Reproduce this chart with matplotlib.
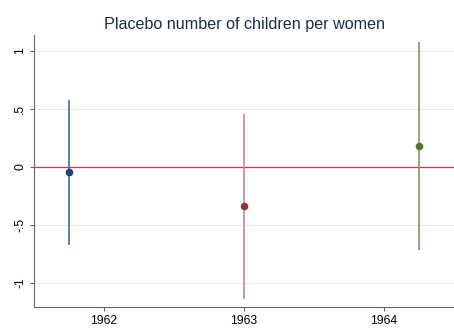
import numpy as np
import matplotlib
matplotlib.use('Agg')
import matplotlib.pyplot as plt

plt.rcParams['font.family'] = ['Liberation Sans', 'DejaVu Sans']

# coefficients and 95% confidence bounds by year
years = [1961.75, 1963.0, 1964.25]
coef = [-0.043, -0.336, 0.18]
lower = [-0.672, -1.138, -0.716]
upper = [0.578, 0.457, 1.078]
line_colors = ['#3f6d9b', '#c98890', '#7f9b5e']
dot_colors = ['#1a476f', '#90353b', '#55752f']

xticks = [1962, 1963, 1964]
yticks = [-1, -0.5, 0, 0.5, 1]
ylabels = ['-1', '-.5', '0', '.5', '1']

fig = plt.figure(figsize=(4.54, 3.29), dpi=100)
ax = fig.add_axes([34 / 454, 22 / 329, 420 / 454, 272 / 329])

ax.set_xlim(1961.5, 1964.5)
ax.set_ylim(-1.207, 1.138)

for y in yticks:
    ax.axhline(y, color='#e6eeeb', lw=0.8, zorder=0)
ax.axhline(0, color='#c8375a', lw=0.9, zorder=1)

for x, c, lo, hi, lc, dc in zip(years, coef, lower, upper, line_colors, dot_colors):
    ax.vlines(x, lo, hi, color=lc, lw=1.2, zorder=2)
    ax.plot(x, c, 'o', color=dc, ms=4.5, zorder=3)

ax.set_xticks(xticks)
ax.set_xticklabels([str(t) for t in xticks], fontsize=8.7)
ax.set_yticks(yticks)
ax.set_yticklabels(ylabels, fontsize=8.7, rotation=90, va='center')
ax.tick_params(length=3, width=0.8, color='#666666', pad=2.5)

for side in ['top', 'right']:
    ax.spines[side].set_visible(False)
for side in ['left', 'bottom']:
    ax.spines[side].set_color('#666666')
    ax.spines[side].set_linewidth(0.8)

# title centred over the plot region
ax.set_title('Placebo number of children per women', fontsize=11.6,
             color='#1e2a4a', pad=4)

fig.savefig('out.png', dpi=100, facecolor='white')
